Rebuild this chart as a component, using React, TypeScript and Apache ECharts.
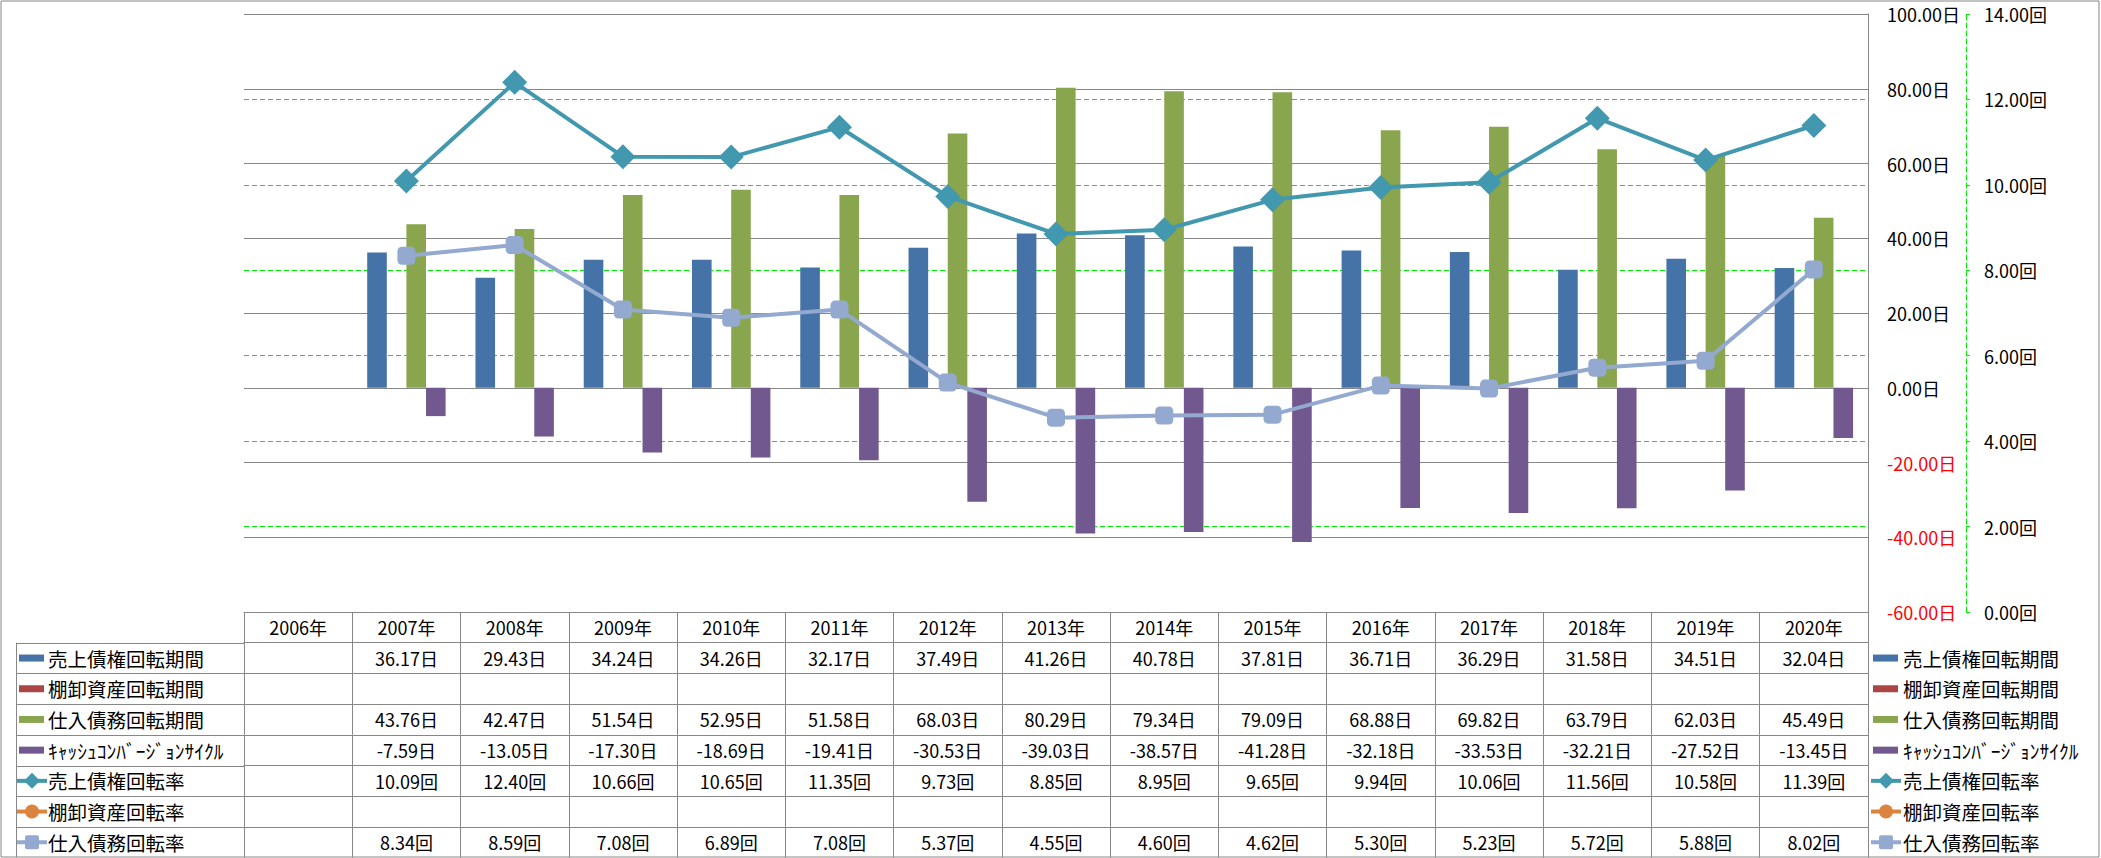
import React, { useEffect, useRef } from 'react';
import * as echarts from 'echarts';

const years = ['2006年', '2007年', '2008年', '2009年', '2010年', '2011年', '2012年', '2013年', '2014年', '2015年', '2016年', '2017年', '2018年', '2019年', '2020年'];
const arDays = [null, 36.17, 29.43, 34.24, 34.26, 32.17, 37.49, 41.26, 40.78, 37.81, 36.71, 36.29, 31.58, 34.51, 32.04];
const invDays = [null, null, null, null, null, null, null, null, null, null, null, null, null, null, null];
const apDays = [null, 43.76, 42.47, 51.54, 52.95, 51.58, 68.03, 80.29, 79.34, 79.09, 68.88, 69.82, 63.79, 62.03, 45.49];
const cccDays = [null, -7.59, -13.05, -17.30, -18.69, -19.41, -30.53, -39.03, -38.57, -41.28, -32.18, -33.53, -32.21, -27.52, -13.45];
const arTurn = [null, 10.09, 12.40, 10.66, 10.65, 11.35, 9.73, 8.85, 8.95, 9.65, 9.94, 10.06, 11.56, 10.58, 11.39];
const invTurn = [null, null, null, null, null, null, null, null, null, null, null, null, null, null, null];
const apTurn = [null, 8.34, 8.59, 7.08, 6.89, 7.08, 5.37, 4.55, 4.60, 4.62, 5.30, 5.23, 5.72, 5.88, 8.02];

const dayAxisTicks = { min: -60, max: 100, interval: 20 };
const turnAxisTicks = { min: 0, max: 14, interval: 2 };

const FONT = '"Noto Sans CJK JP", "Noto Sans", sans-serif';
const GRAY = '#878787';
const GREEN = '#00EE00';
const W = 2101;
const H = 858;
const GRID_L = 244;
const GRID_R = 1868;
const GRID_T = 14;
const TABLE_T = 612;
const ROW_H = 30.7;

type Row = { name: string; data: (number | null)[]; unit: string; color: string; kind: 'bar' | 'line'; symbol?: string };

const rows: Row[] = [
  { name: '売上債権回転期間', data: arDays, unit: '日', color: '#4572A7', kind: 'bar' },
  { name: '棚卸資産回転期間', data: invDays, unit: '日', color: '#AA4643', kind: 'bar' },
  { name: '仕入債務回転期間', data: apDays, unit: '日', color: '#89A54E', kind: 'bar' },
  { name: 'ｷｬｯｼｭｺﾝﾊﾞｰｼﾞｮﾝｻｲｸﾙ', data: cccDays, unit: '日', color: '#71588F', kind: 'bar' },
  { name: '売上債権回転率', data: arTurn, unit: '回', color: '#4198AF', kind: 'line', symbol: 'diamond' },
  { name: '棚卸資産回転率', data: invTurn, unit: '回', color: '#DB843D', kind: 'line', symbol: 'circle' },
  { name: '仕入債務回転率', data: apTurn, unit: '回', color: '#93A9CF', kind: 'line', symbol: 'roundRect' },
];

const fmt = (v: number | null | undefined, unit: string) => (v === null || v === undefined ? '' : v.toFixed(2) + unit);

function legendIcon(r: Row, x0: number, cy: number): any[] {
  if (r.kind === 'bar') {
    return [{ type: 'rect', shape: { x: x0 + 2, y: cy - 3.5, width: 25, height: 7 }, style: { fill: r.color } }];
  }
  const cx = x0 + 15;
  const els: any[] = [{ type: 'line', shape: { x1: x0, y1: cy, x2: x0 + 30, y2: cy }, style: { stroke: r.color, lineWidth: 4 } }];
  if (r.symbol === 'diamond') {
    els.push({ type: 'polygon', shape: { points: [[cx, cy - 8], [cx + 8, cy], [cx, cy + 8], [cx - 8, cy]] }, style: { fill: r.color } });
  } else if (r.symbol === 'circle') {
    els.push({ type: 'circle', shape: { cx, cy, r: 7 }, style: { fill: r.color } });
  } else {
    els.push({ type: 'rect', shape: { x: cx - 7, y: cy - 7, width: 14, height: 14, r: 2 }, style: { fill: r.color } });
  }
  return els;
}

export default function App() {
  const ref = useRef<HTMLDivElement>(null);
  useEffect(() => {
    document.body.style.margin = '0';
    const chart = echarts.init(ref.current!, null, { renderer: 'svg' });

    const graphics: any[] = [];
    graphics.push({ type: 'rect', shape: { x: 1, y: 1, width: W - 3, height: H - 2 }, style: { fill: 'none', stroke: GRAY, lineWidth: 1 }, z: 100 });
    for (let k = 1; k <= 7; k++) {
      const y = Math.round(TABLE_T + k * ROW_H) + 0.5;
      graphics.push({ type: 'line', shape: { x1: 16, y1: y, x2: GRID_L, y2: y }, style: { stroke: GRAY, lineWidth: 1 } });
    }
    graphics.push({ type: 'line', shape: { x1: 16.5, y1: TABLE_T + ROW_H, x2: 16.5, y2: H - 1 }, style: { stroke: GRAY, lineWidth: 1 } });

    rows.forEach((r, i) => {
      const cy = TABLE_T + (i + 1.5) * ROW_H;
      legendIcon(r, 17, cy).forEach((e) => graphics.push(e));
      graphics.push({ type: 'text', x: 48, y: cy, style: { text: r.name, fontSize: 19.5, fontFamily: FONT, fill: '#000', verticalAlign: 'middle', align: 'left' } });
      legendIcon(r, 1871, cy).forEach((e) => graphics.push(e));
      graphics.push({ type: 'text', x: 1903, y: cy, style: { text: r.name, fontSize: 19.5, fontFamily: FONT, fill: '#000', verticalAlign: 'middle', align: 'left' } });
    });

    const headerAxis: any = {
      type: 'category', gridIndex: 0, position: 'bottom', offset: 0, data: years, boundaryGap: true,
      axisLine: { show: true, onZero: false, lineStyle: { color: GRAY, width: 1 } },
      axisTick: { show: true, interval: 0, length: ROW_H, lineStyle: { color: GRAY } },
      axisLabel: { show: true, interval: 0, margin: ROW_H / 2, verticalAlign: 'middle', fontSize: 18, color: '#000', fontFamily: FONT },
      splitLine: { show: false },
    };
    const rowAxes: any[] = rows.map((r, i) => ({
      type: 'category', gridIndex: 0, position: 'bottom', offset: (i + 1) * ROW_H, data: years, boundaryGap: true,
      axisLine: { show: true, onZero: false, lineStyle: { color: GRAY, width: 1 } },
      axisTick: { show: true, interval: 0, length: ROW_H, lineStyle: { color: GRAY } },
      axisLabel: {
        show: true, interval: 0, margin: ROW_H / 2, verticalAlign: 'middle', fontSize: 18, color: '#000', fontFamily: FONT,
        formatter: (_v: string, idx: number) => fmt(r.data[idx], r.unit),
      },
      splitLine: { show: false },
    }));

    const series: any[] = rows.map((r) => {
      if (r.kind === 'bar') {
        return {
          name: r.name, type: 'bar', xAxisIndex: 0, yAxisIndex: 0, data: r.data, barWidth: 19.6, barGap: '0%',
          itemStyle: { color: r.color },
        };
      }
      return {
        name: r.name, type: 'line', xAxisIndex: 0, yAxisIndex: 1, data: r.data,
        symbol: r.symbol, symbolSize: r.symbol === 'diamond' ? 25 : 18,
        lineStyle: { color: r.color, width: 4 }, itemStyle: { color: r.color }, z: 5,
      };
    });

    chart.setOption({
      animation: false,
      backgroundColor: '#fff',
      textStyle: { fontFamily: FONT },
      legend: { show: false },
      grid: { left: GRID_L, right: W - GRID_R, top: GRID_T, bottom: H - TABLE_T, containLabel: false },
      xAxis: [headerAxis, ...rowAxes],
      yAxis: [
        {
          type: 'value', position: 'right', ...dayAxisTicks, z: 1,
          axisLine: { show: true, lineStyle: { color: GRAY, width: 1 } },
          axisTick: { show: false },
          splitLine: { show: true, lineStyle: { color: GRAY, width: 1 } },
          axisLabel: {
            margin: 19, fontSize: 18, fontFamily: FONT,
            formatter: (v: number) => v.toFixed(2) + '日',
            color: (v: any) => (Number(v) < 0 ? '#FF0000' : '#000'),
          },
        },
        {
          type: 'value', position: 'right', offset: 98, ...turnAxisTicks, z: 0,
          axisLine: { show: true, lineStyle: { color: GREEN, width: 1, type: [5, 3] } },
          axisTick: { show: true, length: 4, lineStyle: { color: GREEN } },
          splitLine: { show: true, lineStyle: { color: GREEN, width: 1, type: [5, 3] } },
          axisLabel: {
            margin: 18, fontSize: 18, fontFamily: FONT, color: '#000',
            formatter: (v: number) => v.toFixed(2) + '回',
          },
        },
      ],
      series,
      graphic: graphics,
    });
    return () => chart.dispose();
  }, []);
  return <div ref={ref} style={{ width: W, height: H, position: 'absolute', left: 0, top: 0 }} />;
}
